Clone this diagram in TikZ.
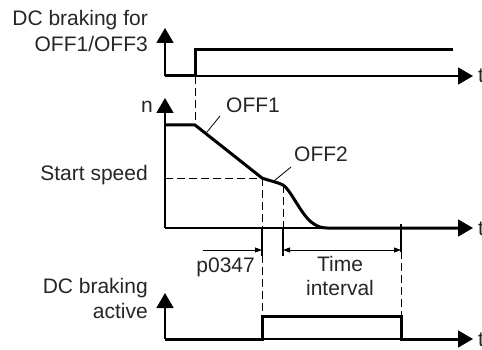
\documentclass[tikz,border=0pt]{standalone}
\usepackage{fontspec}
\setmainfont{Liberation Sans}
\usetikzlibrary{arrows.meta}
\begin{document}
\begin{tikzpicture}[x=1pt,y=-1pt,
  axis/.style={line width=1.6pt,-{Triangle[length=15pt,width=17pt]}},
  sig/.style={line width=3pt, line join=miter},
  guide/.style={line width=0.9pt, dash pattern=on 8pt off 4pt},
  tickline/.style={line width=1.3pt},
  dim/.style={line width=0.8pt},
  smallhead/.style={-{Triangle[length=7pt,width=5pt]}},
  bothhead/.style={{Triangle[length=7pt,width=5pt]}-{Triangle[length=7pt,width=5pt]}},
  lbl/.style={font=\fontsize{21}{25}\selectfont, inner sep=0pt, text=black!85},
]
\useasboundingbox (0,0) rectangle (482,350);

% coordinates
\coordinate (o1) at (165,76);  \coordinate (y1) at (165,28);  \coordinate (x1) at (473,76);
\coordinate (o2) at (165,228); \coordinate (y2) at (165,98);  \coordinate (x2) at (473,228);
\coordinate (o3) at (165,339); \coordinate (y3) at (165,293); \coordinate (x3) at (473,339);
\coordinate (on) at (195,76);  \coordinate (onhi) at (195,50);
\coordinate (nmax) at (165,125); \coordinate (rampstart) at (195,125);
\coordinate (ss) at (262,178); \coordinate (ssaxis) at (165,178);
\coordinate (off2pt) at (283,185);
\coordinate (tA) at (262,228); \coordinate (tB) at (283,228); \coordinate (tC) at (401,228);

% axes
\draw[axis] (o1) -- (y1);
\draw[axis] (o1) -- (x1);
\draw[axis] (o2) -- (y2);
\draw[axis] (o2) -- (x2);
\draw[axis] (o3) -- (y3);
\draw[axis] (o3) -- (x3);

% signals
\draw[sig] (o1) -- (on) -- (onhi) -- (453,50);
\draw[sig, line join=round] (nmax) -- (rampstart) -- (ss)
  .. controls (270,181) and (277,182) .. (off2pt)
  .. controls (290,189) and (300,212) .. (310,221)
  .. controls (316,226) and (320,228) .. (327,228) -- (458,228);
\draw[sig] (o3) -- (262,339) -- (262,316) -- (401,316) -- (401,339) -- (458,339);

% dashed guides
\draw[guide] (on) -- (rampstart);
\draw[guide] (ssaxis) -- (ss);
\draw[guide] (ss) -- (tA);
\draw[guide] (262,255) -- (262,316);
\draw[guide] (off2pt) -- (tB);
\draw[guide] (401,251) -- (401,316);

% ticks
\draw[tickline] (tA) -- (262,256);
\draw[tickline] (tB) -- (283,256);
\draw[tickline] (401,224) -- (401,252);

% dimension arrows
\draw[dim, smallhead] (203,250) -- (262,250);
\draw[dim, bothhead] (283,250) -- (401,250);

% labels
\node[lbl, anchor=base east] (dc1) at (148,26) {DC braking for};
\node[lbl, anchor=base east] (dc2) at (148,52) {OFF1/OFF3};
\node[lbl, anchor=base east] (nlab) at (153,113) {n};
\node[lbl, anchor=base east] (sslab) at (148,181) {Start speed};
\node[lbl, anchor=base west] (off1) at (226,113) {OFF1};
\node[lbl, anchor=base west] (off2) at (294,162) {OFF2};
\node[lbl, anchor=base east] (plab) at (255,272) {p0347};
\node[lbl, anchor=base] (ti1) at (340,271) {Time};
\node[lbl, anchor=base] (ti2) at (340,295) {interval};
\node[lbl, anchor=base east] (dca1) at (148,293) {DC braking};
\node[lbl, anchor=base east] (dca2) at (148,318) {active};
\node[lbl, anchor=base west] (t1) at (478,83) {t};
\node[lbl, anchor=base west] (t2) at (478,235) {t};
\node[lbl, anchor=base west] (t3) at (478,346) {t};

% leaders
\coordinate (l1a) at (220,116); \coordinate (l1b) at (207,132);
\coordinate (l2a) at (291,167); \coordinate (l2b) at (274,181);
\draw[dim] (l1a) -- (l1b);
\draw[dim] (l2a) -- (l2b);
\end{tikzpicture}
\end{document}
